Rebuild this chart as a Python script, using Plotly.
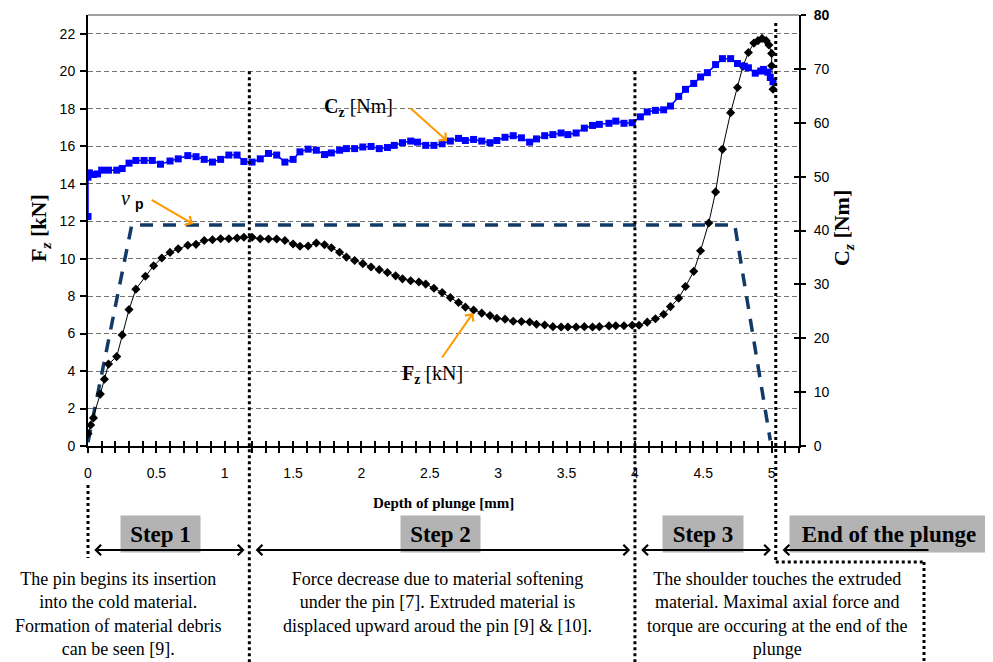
import plotly.graph_objects as go

# Fz [kN] vs depth of plunge [mm]
depth_fz = [0.0, 0.02, 0.04, 0.09, 0.12, 0.15, 0.21, 0.25, 0.30, 0.35,
            0.42, 0.48, 0.54, 0.60, 0.66, 0.73, 0.79, 0.85, 0.91, 0.97,
            1.03, 1.09, 1.14, 1.20, 1.26, 1.32, 1.38, 1.44, 1.50, 1.55,
            1.61, 1.67, 1.73, 1.78, 1.84, 1.89, 1.95, 2.01, 2.07, 2.13,
            2.19, 2.25, 2.30, 2.36, 2.42, 2.47, 2.53, 2.59, 2.65, 2.71,
            2.76, 2.82, 2.88, 2.94, 2.99, 3.05, 3.11, 3.17, 3.23, 3.28,
            3.34, 3.40, 3.46, 3.51, 3.57, 3.63, 3.69, 3.74, 3.81, 3.86,
            3.92, 3.98, 4.03, 4.09, 4.15, 4.21, 4.26, 4.32, 4.37, 4.43,
            4.48, 4.54, 4.59, 4.64, 4.70, 4.75, 4.79, 4.83, 4.87, 4.90,
            4.93, 4.96, 4.98, 5.00, 5.00, 5.01]
force_fz = [0.66, 1.12, 1.50, 2.77, 3.56, 4.37, 4.77, 5.93, 7.28, 8.37,
            9.06, 9.62, 10.03, 10.33, 10.52, 10.71, 10.76, 10.97, 11.01, 11.06,
            11.06, 11.10, 11.14, 11.14, 11.06, 11.05, 11.05, 10.97, 10.78, 10.66,
            10.67, 10.83, 10.74, 10.58, 10.34, 10.08, 9.90, 9.73, 9.55, 9.41,
            9.26, 9.08, 8.92, 8.82, 8.75, 8.64, 8.42, 8.19, 7.92, 7.66,
            7.41, 7.26, 7.09, 6.96, 6.82, 6.77, 6.66, 6.64, 6.62, 6.50,
            6.46, 6.37, 6.35, 6.35, 6.35, 6.37, 6.35, 6.37, 6.41, 6.42,
            6.42, 6.44, 6.44, 6.61, 6.79, 7.03, 7.44, 7.89, 8.51, 9.32,
            10.42, 11.90, 13.56, 15.83, 17.79, 19.13, 20.26, 21.00, 21.50, 21.63,
            21.75, 21.63, 21.40, 20.95, 20.29, 19.04]

# Cz [Nm] vs depth of plunge [mm]
depth_cz = [0.0, 0.0, 0.01, 0.04, 0.07, 0.10, 0.15, 0.21, 0.25, 0.30,
            0.35, 0.41, 0.47, 0.53, 0.60, 0.66, 0.73, 0.79, 0.85, 0.91,
            0.97, 1.03, 1.09, 1.14, 1.20, 1.26, 1.32, 1.38, 1.44, 1.50,
            1.55, 1.61, 1.67, 1.73, 1.78, 1.84, 1.89, 1.95, 2.01, 2.07,
            2.13, 2.19, 2.24, 2.30, 2.36, 2.41, 2.47, 2.53, 2.59, 2.65,
            2.71, 2.76, 2.82, 2.88, 2.94, 2.99, 3.05, 3.11, 3.17, 3.23,
            3.28, 3.34, 3.40, 3.46, 3.51, 3.57, 3.63, 3.69, 3.74, 3.81,
            3.86, 3.92, 3.98, 4.04, 4.09, 4.15, 4.21, 4.26, 4.32, 4.37,
            4.43, 4.48, 4.53, 4.59, 4.64, 4.70, 4.75, 4.80, 4.83, 4.88,
            4.92, 4.94, 4.97, 4.99, 5.01]
torque_cz = [42.6, 49.9, 50.7, 50.4, 50.5, 51.2, 51.2, 51.2, 51.5, 52.5,
             53.0, 53.0, 53.0, 52.3, 52.9, 53.3, 53.9, 53.7, 53.2, 52.7,
             53.2, 54.0, 54.0, 52.8, 52.7, 53.3, 54.3, 54.0, 52.7, 53.2,
             54.6, 55.1, 54.9, 54.1, 54.4, 54.9, 55.2, 55.2, 55.5, 55.6,
             55.2, 55.4, 55.8, 56.3, 56.6, 56.4, 55.8, 55.8, 56.1, 56.6,
             57.1, 56.7, 56.9, 56.6, 56.3, 56.7, 57.3, 57.6, 57.2, 56.4,
             57.0, 57.6, 57.8, 58.1, 57.8, 58.1, 59.0, 59.5, 59.7, 59.9,
             60.3, 59.9, 60.0, 61.1, 62.0, 62.3, 62.4, 63.1, 64.9, 66.2,
             67.3, 68.5, 69.3, 70.8, 71.9, 71.9, 71.0, 70.5, 70.2, 69.2,
             69.6, 69.9, 69.4, 68.4, 67.6]

# plunge speed profile (drawn on the Fz scale)
depth_vp = [0.0, 0.32, 4.73, 4.99]
level_vp = [0.2, 11.8, 11.8, 0.3]

step_bounds = [0.0, 1.18, 4.0, 5.03]
step_labels = ["Step 1", "Step 2", "Step 3", "End of the plunge"]
step_notes = [
    "The pin begins its insertion<br>into the cold material.<br>Formation of material debris<br>can be seen [9].",
    "Force decrease due to material softening<br>under the pin [7]. Extruded material is<br>displaced upward aroud the pin [9] &amp; [10].",
    "The shoulder touches the extruded<br>material. Maximal axial force and<br>torque are occuring at the end of the<br>plunge",
]

X_RANGE = [0, 5.2]
FZ_RANGE = [0, 23]
CZ_RANGE = [0, 80]

W, H = 993, 662
OFF = 8                      # page body margin of the html page
PL, PT, PW, PH = 88, 15, 711, 431   # plot box as seen on screen
ML, MT = PL - OFF, PT - OFF
MR, MB = W - ML - PW, H - MT - PH
SERIF = "Liberation Serif"
SANS = "Liberation Sans"


def px(x):
    # screen pixel -> paper x
    return (x - PL) / PW


def py(y):
    # screen pixel -> paper y
    return (PT + PH - y) / PH


fig = go.Figure()

fig.add_trace(go.Scatter(
    x=depth_vp, y=level_vp, mode="lines", name="vp",
    line=dict(color="#123A66", width=3.5, dash="13px,10px"),
    showlegend=False, hoverinfo="skip"))

fig.add_trace(go.Scatter(
    x=depth_fz, y=force_fz, mode="lines+markers", name="Fz [kN]",
    line=dict(color="black", width=1),
    marker=dict(symbol="diamond", size=7, color="black"),
    showlegend=False))

fig.add_trace(go.Scatter(
    x=depth_cz, y=torque_cz, mode="lines+markers", name="Cz [Nm]",
    line=dict(color="#0000FF", width=1.5),
    marker=dict(symbol="square", size=7, color="#0000FF"),
    yaxis="y2", showlegend=False))

# empty traces to carry the inner tick overlays
fig.add_trace(go.Scatter(x=[], y=[], xaxis="x2", yaxis="y", showlegend=False, hoverinfo="skip"))
fig.add_trace(go.Scatter(x=[], y=[], xaxis="x", yaxis="y3", showlegend=False, hoverinfo="skip"))

tick_font = dict(family=SANS, size=14, color="black")

fig.update_layout(
    width=W, height=H, autosize=False,
    margin=dict(l=ML, r=MR, t=MT, b=MB, autoexpand=False),
    plot_bgcolor="white", paper_bgcolor="white",
    showlegend=False,
    xaxis=dict(
        range=X_RANGE, tick0=0, dtick=0.5, ticks="outside", ticklen=5, tickwidth=1.5,
        tickcolor="black", minor=dict(dtick=0.1, ticks="outside", ticklen=5, tickwidth=1.5, tickcolor="black"),
        showline=True, linecolor="black", linewidth=2, showgrid=False, zeroline=False,
        tickfont=tick_font, ticklabelstandoff=8, automargin=False),
    xaxis2=dict(
        range=X_RANGE, overlaying="x", anchor="y", side="bottom", tick0=0, dtick=0.5,
        ticks="inside", ticklen=5, tickwidth=1.5, tickcolor="black",
        minor=dict(dtick=0.1, ticks="inside", ticklen=5, tickwidth=1.5, tickcolor="black"),
        showticklabels=False, showgrid=False, zeroline=False, showline=False, automargin=False),
    yaxis=dict(
        range=FZ_RANGE, tickvals=list(range(0, 23, 2)), ticks="outside", ticklen=6, tickwidth=1.5,
        tickcolor="black", showline=True, linecolor="black", linewidth=2,
        showgrid=True, gridcolor="#737373", gridwidth=1, griddash="5px,3px", zeroline=False,
        tickfont=tick_font, ticklabelstandoff=2, automargin=False),
    yaxis2=dict(
        range=CZ_RANGE, overlaying="y", side="right", anchor="x",
        tickvals=list(range(0, 81, 10)),
        ticktext=[str(v) for v in range(0, 80, 10)] + ["<b>80</b>"],
        ticks="outside", ticklen=5, tickwidth=1.5, tickcolor="black",
        showline=True, linecolor="black", linewidth=2, showgrid=False, zeroline=False,
        tickfont=tick_font, ticklabelstandoff=5, ticklabeloverflow="allow", automargin=False),
    yaxis3=dict(
        range=CZ_RANGE, overlaying="y", side="right", anchor="x", dtick=10,
        ticks="inside", ticklen=5, tickwidth=1.5, tickcolor="black",
        showticklabels=False, showgrid=False, zeroline=False, showline=False, automargin=False),
)

shapes = []
dot = dict(color="black", width=3, dash="dot")
# top frame line
shapes.append(dict(type="line", xref="paper", yref="paper", x0=0, x1=1, y0=1, y1=1,
                   line=dict(color="#444444", width=1)))
# step dividers
shapes.append(dict(type="line", xref="paper", yref="paper",
                   x0=step_bounds[0] / X_RANGE[1], x1=step_bounds[0] / X_RANGE[1],
                   y0=py(485), y1=py(558), line=dot))
for b in step_bounds[1:3]:
    shapes.append(dict(type="line", xref="x", yref="paper", x0=b, x1=b,
                       y0=20 / FZ_RANGE[1], y1=py(H + 10), line=dot))
shapes.append(dict(type="line", xref="x", yref="paper", x0=step_bounds[3], x1=step_bounds[3],
                   y0=py(23), y1=py(562), line=dot))
shapes.append(dict(type="line", xref="paper", yref="paper",
                   x0=step_bounds[3] / X_RANGE[1], x1=px(924), y0=py(562), y1=py(562), line=dot))
shapes.append(dict(type="line", xref="paper", yref="paper",
                   x0=px(924), x1=px(924), y0=py(562), y1=py(H + 10), line=dot))

ann = []
orange = "#FF9900"
# in-plot labels with orange pointers
ann.append(dict(x=1.975, y=18.09, xref="x", yref="y", showarrow=False,
                text="<b>C<sub>z</sub></b> [Nm]", font=dict(family=SERIF, size=20, color="black")))
ann.append(dict(x=2.626, y=16.28, ax=2.348, ay=18.09, xref="x", yref="y", axref="x", ayref="y",
                text="", showarrow=True, arrowhead=4, arrowsize=1, arrowwidth=2, arrowcolor=orange))
ann.append(dict(x=0.322, y=13.13, xref="x", yref="y", showarrow=False,
                text="<i>ν</i> <sub><span style=\"font-family:Liberation Sans\"><b>p</b></span></sub>",
                font=dict(family=SERIF, size=20, color="black")))
ann.append(dict(x=0.768, y=11.85, ax=0.454, ay=13.18, xref="x", yref="y", axref="x", ayref="y",
                text="", showarrow=True, arrowhead=4, arrowsize=1, arrowwidth=2, arrowcolor=orange))
ann.append(dict(x=2.516, y=3.79, xref="x", yref="y", showarrow=False,
                text="<b>F<sub>z</sub></b> [kN]", font=dict(family=SERIF, size=20, color="black")))
ann.append(dict(x=2.816, y=7.10, ax=2.582, ay=4.64, xref="x", yref="y", axref="x", ayref="y",
                text="", showarrow=True, arrowhead=4, arrowsize=1, arrowwidth=2, arrowcolor=orange))

# axis titles
ann.append(dict(x=px(40), y=py(228), xref="paper", yref="paper", showarrow=False, textangle=-90,
                xanchor="center", yanchor="middle",
                text="<b>F<sub><i>z</i></sub> [kN]</b>", font=dict(family=SERIF, size=22, color="black")))
ann.append(dict(x=px(843), y=py(228), xref="paper", yref="paper", showarrow=False, textangle=-90,
                xanchor="center", yanchor="middle",
                text="<b>C<sub><i>z</i></sub> [Nm]</b>", font=dict(family=SERIF, size=22, color="black")))
ann.append(dict(x=0.5, y=py(503), xref="paper", yref="paper", showarrow=False,
                xanchor="center", yanchor="middle",
                text="<b>Depth of plunge [mm]</b>", font=dict(family=SERIF, size=15, color="black")))

# step boxes
box_centers = [160.5, 440.5, 703, 889]
box_widths = [79, 79, 80, 198]
for label, cx, bw in zip(step_labels, box_centers, box_widths):
    ann.append(dict(x=px(cx), y=py(534), xref="paper", yref="paper", showarrow=False,
                    xanchor="center", yanchor="middle",
                    text="<b>%s</b>" % label, width=bw, height=36, borderpad=0,
                    bgcolor="#b3b3b3", valign="middle",
                    font=dict(family=SERIF, size=23, color="black")))

# step arrows
gap = 0.035
arrow_y = py(550)
for i in range(3):
    ann.append(dict(x=step_bounds[i + 1] - gap, y=arrow_y, ax=step_bounds[i] + gap, ay=0,
                    xref="x", yref="paper", axref="x", ayref="pixel", text="", showarrow=True,
                    arrowhead=4, startarrowhead=4, arrowside="end+start", arrowsize=1,
                    startarrowsize=1, arrowwidth=2, arrowcolor="black"))
ann.append(dict(x=step_bounds[3] + 0.05, y=arrow_y, ax=px(930) * X_RANGE[1], ay=0,
                xref="x", yref="paper", axref="x", ayref="pixel", text="", showarrow=True,
                arrowhead=4, arrowsize=1, arrowwidth=2, arrowcolor="black"))

# step descriptions
note_centers = [118, 437, 777]
for note, cx in zip(step_notes, note_centers):
    ann.append(dict(x=px(cx), y=py(567), xref="paper", yref="paper", showarrow=False,
                    xanchor="center", yanchor="top", align="center", text=note,
                    font=dict(family=SERIF, size=18, color="black")))

fig.update_layout(shapes=shapes, annotations=ann)

fig.write_html("out.html")
